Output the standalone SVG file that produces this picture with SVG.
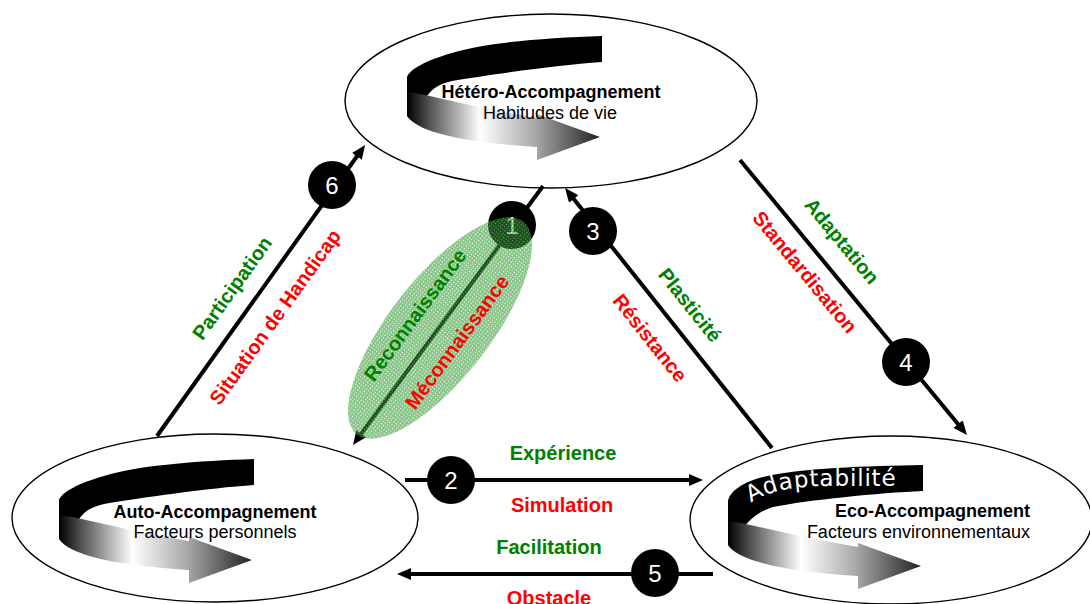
<svg xmlns="http://www.w3.org/2000/svg" width="1090" height="604" viewBox="0 0 1090 604">
<style>
 .node{fill:#fff;stroke:#000;stroke-width:1.4}
 .title{font-family:"Liberation Sans",Arial,sans-serif;font-weight:bold;font-size:18px;fill:#000}
 .sub{font-family:"Liberation Sans",Arial,sans-serif;font-size:18px;fill:#000}
 .mid{text-anchor:middle}
 .end{text-anchor:end}
 .lbl{font-family:"Liberation Sans",Arial,sans-serif;font-weight:bold;font-size:20px;text-anchor:middle}
 .g{fill:#008000}
 .r{fill:#ff0000}
 .conn{stroke:#000;stroke-width:4;fill:none;marker-end:url(#ah)}
 .num circle{fill:#000}
 .num text{font-family:"Liberation Sans",Arial,sans-serif;font-size:24px;fill:#fff;text-anchor:middle}
 .back{fill:#000}
 .front{fill:url(#grad)}
</style>
<defs>
 <marker id="ah" markerUnits="userSpaceOnUse" viewBox="0 0 14 12" markerWidth="14" markerHeight="12" refX="6" refY="6" orient="auto"><path d="M0,0 L14,6 L0,12 Z" fill="#000"/></marker>
 <linearGradient id="grad" x1="0" y1="0" x2="1" y2="0">
  <stop offset="0" stop-color="#000"/>
  <stop offset="0.12" stop-color="#555"/>
  <stop offset="0.38" stop-color="#fff"/>
  <stop offset="0.66" stop-color="#aaa"/>
  <stop offset="1" stop-color="#222"/>
 </linearGradient>
 <pattern id="dots" width="3" height="3" patternUnits="userSpaceOnUse"><rect width="3" height="3" fill="#2f9a2f"/><rect x="1" y="1" width="1" height="1" fill="#fff"/></pattern>
 <path id="backBand" d="M195,0 C140,2 80,6 45,17 C20,24 3,33 0,41 L0,60 L20,60 C26,52 32,48 45,45 C80,39 150,29 195,26 Z"/>
 <path id="backBand2" d="M195,0 C140,1 70,3 35,12 C15,17 2,26 0,36 L0,62 L16,62 C24,52 32,46 45,42 C80,35 150,28 195,26 Z"/>
 <path id="frontBand" d="M0,56 L0,80 C10,95 50,106 130,111 L130,124 L193,101 L130,78 L130,82 C60,70 20,58 0,56 Z"/>
 <path id="adaptPath" d="M23,38 C40,26 65,21 104,21 L172,21"/>
</defs>

<g id="hetero">
 <ellipse class="node" cx="551" cy="101" rx="206" ry="87"/>
 <g transform="translate(407,36)">
  <use href="#backBand" class="back"/>
  <use href="#frontBand" class="front"/>
 </g>
 <text class="title mid" x="551" y="98">Hétéro-Accompagnement</text>
 <text class="sub mid" x="550" y="119">Habitudes de vie</text>
</g>

<g id="auto">
 <ellipse class="node" cx="215" cy="518" rx="203" ry="84"/>
 <g transform="translate(59,459)">
  <use href="#backBand" class="back"/>
  <use href="#frontBand" class="front"/>
 </g>
 <text class="title mid" x="215" y="518">Auto-Accompagnement</text>
 <text class="sub mid" x="215" y="538">Facteurs personnels</text>
</g>

<g id="eco">
 <ellipse class="node" cx="891" cy="520" rx="201" ry="84"/>
 <g transform="translate(728,465)">
  <use href="#backBand2" class="back"/>
  <use href="#frontBand" class="front"/>
  <text font-family="'DejaVu Sans',Verdana,sans-serif" font-size="23" letter-spacing="0.8" fill="#fff"><textPath href="#adaptPath">Adaptabilité</textPath></text>
 </g>
 <text class="title end" x="1030" y="517">Eco-Accompagnement</text>
 <text class="sub end" x="1030" y="538">Facteurs environnementaux</text>
</g>

<g id="connectors">
 <line class="conn" x1="157" y1="436" x2="360.4" y2="151.5"/>
 <line class="conn" x1="543" y1="186" x2="357.7" y2="438.5"/>
 <line class="conn" x1="772" y1="448" x2="570" y2="194.3"/>
 <line class="conn" x1="740" y1="160" x2="961.9" y2="428.8"/>
 <line class="conn" x1="405" y1="480" x2="695" y2="480"/>
 <line class="conn" x1="713" y1="574" x2="405" y2="574"/>
 <g class="num"><circle cx="332" cy="185" r="24"/><text x="332" y="194">6</text></g>
 <g class="num"><circle cx="512" cy="225" r="24"/><text x="512" y="234">1</text></g>
 <g class="num"><circle cx="593" cy="231" r="24"/><text x="593" y="240">3</text></g>
 <g class="num"><circle cx="906" cy="362" r="24"/><text x="906" y="371">4</text></g>
 <g class="num"><circle cx="451" cy="480" r="24"/><text x="451" y="489">2</text></g>
 <g class="num"><circle cx="655" cy="573" r="24"/><text x="655" y="582">5</text></g>
 <ellipse cx="440" cy="328" rx="135" ry="50" transform="rotate(-52 440 328)" fill="url(#dots)" opacity="0.55"/>
</g>

<g id="labels">
 <text class="lbl g" transform="translate(232,288) rotate(-54.4)" y="7">Participation</text>
 <text class="lbl r" transform="translate(275,317) rotate(-54.4)" y="7">Situation de Handicap</text>
 <text class="lbl g" transform="translate(415,315) rotate(-53.7)" y="7">Reconnaissance</text>
 <text class="lbl r" transform="translate(457,342) rotate(-53.7)" y="7">Méconnaissance</text>
 <text class="lbl g" transform="translate(690,305) rotate(51.5)" y="7">Plasticité</text>
 <text class="lbl r" transform="translate(650,338) rotate(51.5)" y="7">Résistance</text>
 <text class="lbl g" transform="translate(842,241) rotate(50.5)" y="7">Adaptation</text>
 <text class="lbl r" transform="translate(805,272) rotate(50.5)" y="7">Standardisation</text>
 <text class="lbl g" x="563" y="460">Expérience</text>
 <text class="lbl r" x="562" y="512">Simulation</text>
 <text class="lbl g" x="549" y="554">Facilitation</text>
 <text class="lbl r" x="549" y="605">Obstacle</text>
</g>
</svg>
